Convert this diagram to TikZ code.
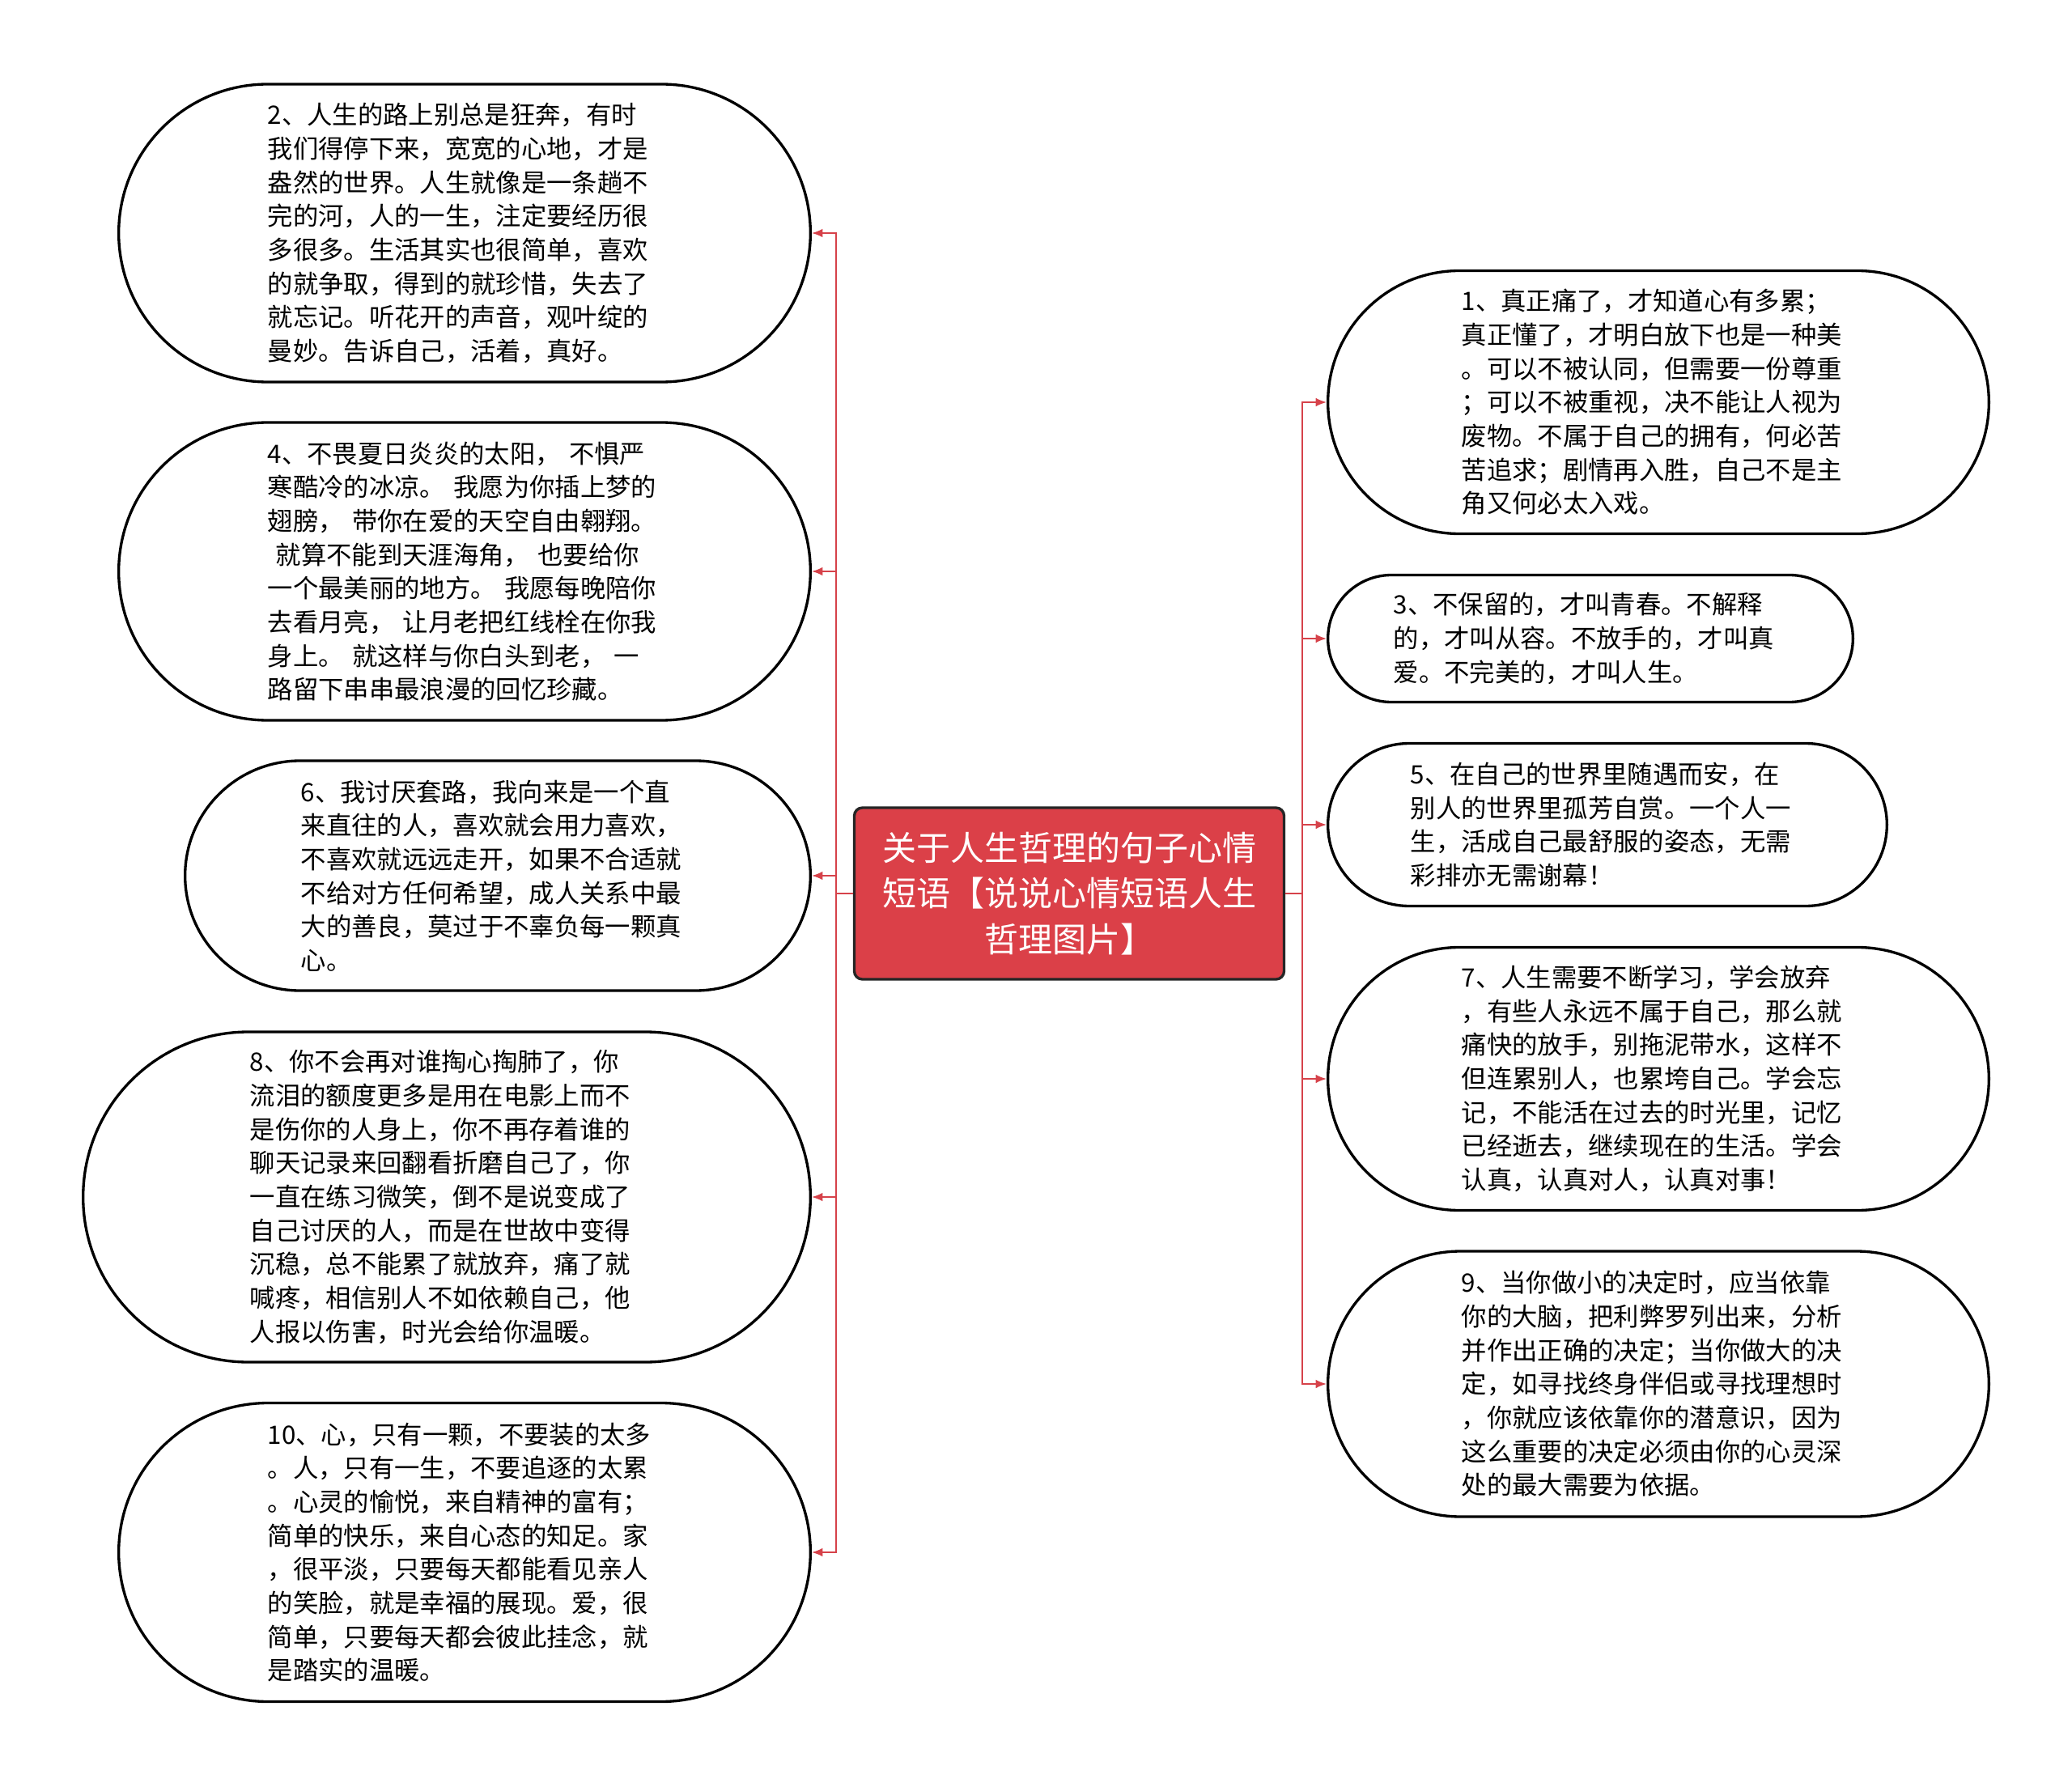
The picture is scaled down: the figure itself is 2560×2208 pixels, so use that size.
\documentclass[tikz,border=0pt]{standalone}
\usepackage{fontspec}
\newfontfamily\cjk{Noto Sans CJK SC}
\usetikzlibrary{shapes.misc,arrows.meta}
\definecolor{LinkRed}{RGB}{214,66,74}
\definecolor{RootRed}{RGB}{219,64,72}

\begin{document}
\begin{tikzpicture}[
	%Environment config
	x=0.3pt, y=-0.3pt,
	font=\cjk,
	%Environment styles
	LeafCfg/.style={
		rounded rectangle,
		draw, line width=1pt,
		align=left, inner sep=2pt, text width=146pt,
		font=\cjk\fontsize{9.4}{12.5}\selectfont
	},
	RootCfg/.style={
		draw=black!85, line width=1pt, fill=RootRed,
		rounded corners=3pt, text=white,
		align=center, inner sep=2pt,
		font=\cjk\fontsize{12.6}{16.9}\selectfont
	},
	LinkCfg/.style={draw=LinkRed, line width=0.6pt}
	]
	\useasboundingbox (0,0) rectangle (2560,2208);
	\path
	(1321,1104) node[RootCfg, minimum width=159.3pt, minimum height=63.6pt](ROOT){关于人生哲理的句子心情\\短语【说说心情短语人生\\哲理图片】}
	%left side
	(574,288) node[LeafCfg, minimum width=260.4pt, minimum height=110.4pt](S2){2、人生的路上别总是狂奔，有时\\我们得停下来，宽宽的心地，才是\\盎然的世界。人生就像是一条趟不\\完的河，人的一生，注定要经历很\\多很多。生活其实也很简单，喜欢\\的就争取，得到的就珍惜，失去了\\就忘记。听花开的声音，观叶绽的\\曼妙。告诉自己，活着，真好。}
	(574,706) node[LeafCfg, minimum width=260.4pt, minimum height=110.4pt](S4){4、不畏夏日炎炎的太阳， 不惧严\\寒酷冷的冰凉。 我愿为你插上梦的\\翅膀， 带你在爱的天空自由翱翔。\\\hspace*{3pt}就算不能到天涯海角， 也要给你\\一个最美丽的地方。 我愿每晚陪你\\去看月亮， 让月老把红线栓在你我\\身上。 就这样与你白头到老， 一\\路留下串串最浪漫的回忆珍藏。}
	(615,1082) node[LeafCfg, minimum width=235.8pt, minimum height=85.2pt](S6){6、我讨厌套路，我向来是一个直\\来直往的人，喜欢就会用力喜欢，\\不喜欢就远远走开，如果不合适就\\不给对方任何希望，成人关系中最\\大的善良，莫过于不辜负每一颗真\\心。}
	(552,1479) node[LeafCfg, minimum width=273.6pt, minimum height=122.4pt](S8){8、你不会再对谁掏心掏肺了，你\\流泪的额度更多是用在电影上而不\\是伤你的人身上，你不再存着谁的\\聊天记录来回翻看折磨自己了，你\\一直在练习微笑，倒不是说变成了\\自己讨厌的人，而是在世故中变得\\沉稳，总不能累了就放弃，痛了就\\喊疼，相信别人不如依赖自己，他\\人报以伤害，时光会给你温暖。}
	(574,1918) node[LeafCfg, minimum width=260.4pt, minimum height=110.7pt](S10){10、心，只有一颗，不要装的太多\\。人，只有一生，不要追逐的太累\\。心灵的愉悦，来自精神的富有；\\简单的快乐，来自心态的知足。家\\，很平淡，只要每天都能看见亲人\\的笑脸，就是幸福的展现。爱，很\\简单，只要每天都会彼此挂念，就\\是踏实的温暖。}
	%right side
	(2049,497) node[LeafCfg, minimum width=249pt, minimum height=97.5pt](S1){1、真正痛了，才知道心有多累；\\真正懂了，才明白放下也是一种美\\。可以不被认同，但需要一份尊重\\；可以不被重视，决不能让人视为\\废物。不属于自己的拥有，何必苦\\苦追求；剧情再入胜，自己不是主\\角又何必太入戏。}
	(1965,789) node[LeafCfg, minimum width=198.6pt, minimum height=47.1pt](S3){3、不保留的，才叫青春。不解释\\的，才叫从容。不放手的，才叫真\\爱。不完美的，才叫人生。}
	(1986,1019) node[LeafCfg, minimum width=211.2pt, minimum height=60.3pt](S5){5、在自己的世界里随遇而安，在\\别人的世界里孤芳自赏。一个人一\\生，活成自己最舒服的姿态，无需\\彩排亦无需谢幕！}
	(2049,1333) node[LeafCfg, minimum width=249pt, minimum height=97.5pt](S7){7、人生需要不断学习，学会放弃\\，有些人永远不属于自己，那么就\\痛快的放手，别拖泥带水，这样不\\但连累别人，也累垮自己。学会忘\\记，不能活在过去的时光里，记忆\\已经逝去，继续现在的生活。学会\\认真，认真对人，认真对事！}
	(2049,1710) node[LeafCfg, minimum width=249pt, minimum height=98.4pt](S9){9、当你做小的决定时，应当依靠\\你的大脑，把利弊罗列出来，分析\\并作出正确的决定；当你做大的决\\定，如寻找终身伴侣或寻找理想时\\，你就应该依靠你的潜意识，因为\\这么重要的决定必须由你的心灵深\\处的最大需要为依据。};

	\draw[LinkCfg]
	(ROOT.west) -- ++(-21,0) coordinate (TL)
	(ROOT.east) -- ++(21,0) coordinate (TR);
	\foreach \n in {S2,S4,S6,S8,S10}
		\draw[LinkCfg,-{Latex[length=4pt,width=3.2pt]}] (TL) |- (\n.east);
	\foreach \n in {S1,S3,S5,S7,S9}
		\draw[LinkCfg,-{Latex[length=4pt,width=3.2pt]}] (TR) |- (\n.west);
\end{tikzpicture}
\end{document}
